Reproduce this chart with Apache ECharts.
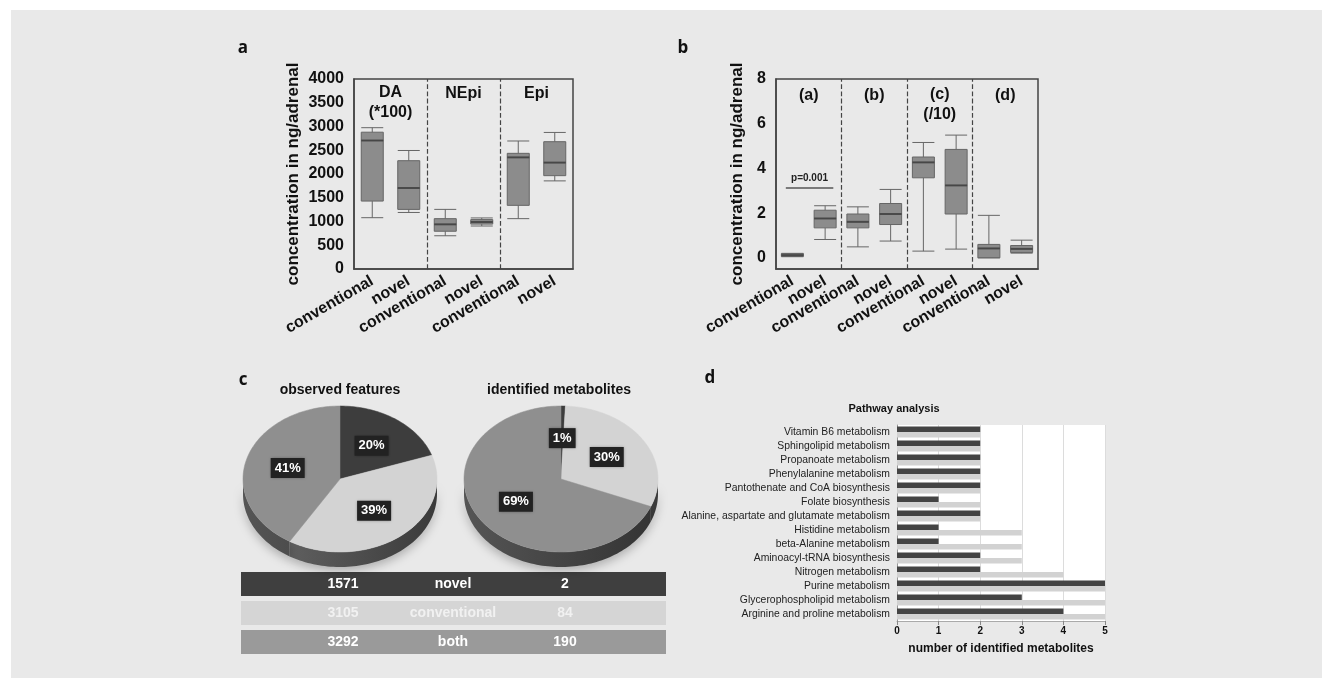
<!DOCTYPE html>
<html>
<head>
<meta charset="utf-8">
<script src="https://cdn.jsdelivr.net/npm/echarts@6/dist/echarts.min.js"></script>
<style>
  body { margin: 0; background: #fff; }
  .panel { position: absolute; left: 11px; top: 10px; width: 1311px; height: 668px; background: #e9e9e9; }
  #main { position: absolute; left: 0; top: 0; width: 1322px; height: 678px; }
</style>
</head>
<body>
<div class="panel"></div>
<div id="main"></div>
<script>
// panel a: catecholamines, box = [min, Q1, median, Q3, max]
const boxLabelsA = ["conventional", "novel", "conventional", "novel", "conventional", "novel"];
const sectionsA = ["DA\n(*100)", "NEpi", "Epi"];
const boxA = [
  [1080, 1430, 2705, 2880, 2975],
  [1190, 1255, 1705, 2280, 2495],
  [700, 795, 940, 1060, 1255],
  [905, 945, 990, 1040, 1075],
  [1060, 1340, 2350, 2435, 2695],
  [1855, 1965, 2240, 2680, 2875],
];
const ticksA = [0, 500, 1000, 1500, 2000, 2500, 3000, 3500, 4000];

// panel b
const boxLabelsB = ["conventional", "novel", "conventional", "novel", "conventional", "novel", "conventional", "novel"];
const sectionsB = ["(a)", "(b)", "(c)\n(/10)", "(d)"];
const boxB = [
  [0.05, 0.06, 0.12, 0.19, 0.2],
  [0.82, 1.34, 1.76, 2.13, 2.33],
  [0.49, 1.34, 1.61, 1.96, 2.28],
  [0.75, 1.49, 1.96, 2.43, 3.06],
  [0.3, 3.58, 4.27, 4.51, 5.16],
  [0.39, 1.96, 3.24, 4.85, 5.49],
  [0.0, 0.0, 0.42, 0.6, 1.9],
  [0.21, 0.24, 0.4, 0.55, 0.79],
];
const ticksB = [0, 2, 4, 6, 8];
const pText = "p=0.001";
const pLevel = 3.15;

// panel c
const groups = ["novel", "conventional", "both"];
const featureCounts = [1571, 3105, 3292];
const metaboliteCounts = [2, 84, 190];
const pieTitles = ["observed features", "identified metabolites"];

// panel d
const pathways = [
  "Vitamin B6 metabolism",
  "Sphingolipid metabolism",
  "Propanoate metabolism",
  "Phenylalanine metabolism",
  "Pantothenate and CoA biosynthesis",
  "Folate biosynthesis",
  "Alanine, aspartate and glutamate metabolism",
  "Histidine metabolism",
  "beta-Alanine metabolism",
  "Aminoacyl-tRNA biosynthesis",
  "Nitrogen metabolism",
  "Purine metabolism",
  "Glycerophospholipid metabolism",
  "Arginine and proline metabolism",
];
const identified = [2, 2, 2, 2, 2, 1, 2, 1, 1, 2, 2, 5, 3, 4];
const pathwayHits = [2, 2, 2, 2, 2, 2, 2, 3, 3, 3, 4, 5, 5, 5];

const FONT = "'Liberation Sans', Arial, sans-serif";
const topColors = ["#3d3d3d", "#d3d3d3", "#8f8f8f"];
const sideColors = [["#3a3a3a", "#202020"], ["#6a6a6a", "#3a3a3a"], ["#555", "#333"]];
const rowColors = ["#3f3f3f", "#d5d5d5", "#9a9a9a"];
const rowText = ["#fff", "#f1f1f1", "#fff"];

const myChart = echarts.init(document.getElementById("main"));

// pseudo 3d pie drawn as ellipse slices
function pieSeries(values, cx, cy) {
  const rx = 97, ry = 73, depth = 15;
  const total = values.reduce((a, b) => a + b, 0);
  return {
    type: "custom",
    coordinateSystem: "none",
    silent: true,
    data: values,
    renderItem(params, api) {
      const i = params.dataIndex;
      let before = 0;
      for (let k = 0; k < i; k++) before += values[k];
      const a0 = (before / total) * 2 * Math.PI;
      const a1 = ((before + values[i]) / total) * 2 * Math.PI;
      const pt = (a, dy, f) => [cx + rx * f * Math.sin(a), cy - ry * f * Math.cos(a) + dy];
      const arc = (s, e, dy) => {
        const n = Math.max(2, Math.ceil((e - s) / 0.03));
        const out = [];
        for (let k = 0; k <= n; k++) out.push(pt(s + ((e - s) * k) / n, dy, 1));
        return out;
      };
      const children = [];
      const s = Math.max(a0, Math.PI / 2), e = Math.min(a1, 1.5 * Math.PI);
      if (e > s) {
        children.push({
          type: "polygon",
          z2: 1,
          shape: { points: arc(s, e, 0).concat(arc(s, e, depth).reverse()) },
          style: {
            fill: new echarts.graphic.LinearGradient(cx - rx, 0, cx + rx, 0, [
              { offset: 0, color: sideColors[i][0] },
              { offset: 1, color: sideColors[i][1] },
            ], true),
            shadowBlur: 10,
            shadowColor: "rgba(0,0,0,0.25)",
            shadowOffsetY: 4,
          },
        });
      }
      children.push({
        type: "polygon",
        z2: 2,
        shape: { points: [[cx, cy]].concat(arc(a0, a1, 0)) },
        style: { fill: topColors[i], stroke: topColors[i], lineWidth: 0.5 },
      });
      const lp = pt((a0 + a1) / 2, 0, 0.56);
      children.push({
        type: "text",
        z2: 10,
        x: lp[0],
        y: lp[1],
        style: {
          text: Math.round((values[i] / total) * 100) + "%",
          fill: "#fff",
          font: "bold 13px " + FONT,
          backgroundColor: "#222",
          padding: [4, 4, 3, 4],
          align: "center",
          verticalAlign: "middle",
          shadowBlur: 3,
          shadowColor: "rgba(0,0,0,0.4)",
        },
      });
      return { type: "group", children: children };
    },
  };
}

const catAxis = (grid, data) => ({
  type: "category",
  gridIndex: grid,
  data: data,
  axisLine: { onZero: false, lineStyle: { color: "#444", width: 1.5 } },
  axisTick: { alignWithLabel: true, length: 4, lineStyle: { color: "#444" } },
  axisLabel: { interval: 0, rotate: 30, margin: 11, color: "#111", fontSize: 16, fontWeight: "bold", fontFamily: FONT },
});

const valueAxis = (grid, min, max, ticks, gap) => ({
  type: "value",
  gridIndex: grid,
  min: min,
  max: max,
  name: "concentration in ng/adrenal",
  nameLocation: "middle",
  nameGap: gap,
  nameTextStyle: { color: "#111", fontSize: 17, fontWeight: "bold" },
  axisLine: { show: true, onZero: false, lineStyle: { color: "#444", width: 1.5 } },
  axisTick: { show: false },
  splitLine: { show: false },
  axisLabel: { color: "#111", fontSize: 16, fontWeight: "bold", margin: 10, customValues: ticks, formatter: (v) => String(v) },
});

const medianDots = (box, x, y) => ({
  type: "scatter",
  xAxisIndex: x,
  yAxisIndex: y,
  silent: true,
  symbol: "rect",
  symbolSize: [22, 2],
  itemStyle: { color: "#3f3f3f" },
  data: box.map((d, i) => [i, d[2]]),
});

const sectionText = (labels, top1, top2) =>
  labels.map((t, k) => ({ name: t, coord: [2 * k + 0.5, t.indexOf("\n") > 0 ? top2 : top1] }));

const markText = {
  show: true,
  position: "inside",
  color: "#111",
  fontSize: 16,
  fontWeight: "bold",
  fontFamily: FONT,
  lineHeight: 20,
  formatter: (p) => p.name,
};

// table under the pies
const table = [];
groups.forEach((g, r) => {
  const y = 572 + r * 29;
  table.push({ type: "rect", shape: { x: 241, y: y, width: 425, height: 24 }, style: { fill: rowColors[r] } });
  [[343, featureCounts[r]], [453, g], [565, metaboliteCounts[r]]].forEach(([x, t]) => {
    table.push({ type: "text", x: x, y: y + 12, style: { text: String(t), fill: rowText[r], font: "bold 14px " + FONT, align: "center", verticalAlign: "middle" } });
  });
});

const letter = (t, x, y) => ({ type: "text", x: x, y: y, style: { text: t, fill: "#111", font: "bold 17px 'Open Sans', sans-serif", align: "center", verticalAlign: "middle" } });

myChart.setOption({
  animation: false,
  textStyle: { fontFamily: FONT },
  grid: [
    { left: 354, top: 79, width: 219, height: 190, show: true, borderColor: "#444", borderWidth: 1.5 },
    { left: 776, top: 79, width: 262, height: 190, show: true, borderColor: "#444", borderWidth: 1.5 },
    { left: 897, top: 425, width: 208, height: 196, show: true, backgroundColor: "#fff", borderWidth: 0 },
  ],
  xAxis: [
    catAxis(0, boxLabelsA),
    catAxis(1, boxLabelsB),
    { type: "value", gridIndex: 0, min: -0.5, max: 5.5, show: false },
    { type: "value", gridIndex: 1, min: -0.5, max: 7.5, show: false },
    {
      type: "value",
      gridIndex: 2,
      min: 0,
      max: 5,
      interval: 1,
      name: "number of identified metabolites",
      nameLocation: "middle",
      nameGap: 22,
      nameTextStyle: { color: "#111", fontSize: 12, fontWeight: "bold" },
      axisLine: { show: true, onZero: false, lineStyle: { color: "#aaa" } },
      axisTick: { show: true, length: 4, lineStyle: { color: "#888" } },
      axisLabel: { color: "#111", fontSize: 10, fontWeight: "bold", margin: 5 },
      splitLine: { show: true, lineStyle: { color: "#dcdcdc" } },
    },
  ],
  yAxis: [
    valueAxis(0, 0, 4000, ticksA, 52),
    valueAxis(1, -0.5, 8, ticksB, 30),
    {
      type: "category",
      gridIndex: 2,
      inverse: true,
      data: pathways,
      axisLine: { onZero: false, lineStyle: { color: "#999" } },
      axisTick: { show: false },
      axisLabel: { color: "#222", fontSize: 10.4, margin: 7 },
    },
  ],
  graphic: [
    letter("a", 243, 48),
    letter("b", 683, 48),
    letter("c", 243, 380),
    letter("d", 710, 378),
    { type: "text", x: 340, y: 390, style: { text: pieTitles[0], fill: "#111", font: "bold 14px " + FONT, align: "center", verticalAlign: "middle" } },
    { type: "text", x: 559, y: 390, style: { text: pieTitles[1], fill: "#111", font: "bold 14px " + FONT, align: "center", verticalAlign: "middle" } },
    { type: "text", x: 894, y: 409, style: { text: "Pathway analysis", fill: "#111", font: "bold 11px " + FONT, align: "center", verticalAlign: "middle" } },
  ].concat(table),
  series: [
    {
      type: "boxplot",
      xAxisIndex: 0,
      yAxisIndex: 0,
      boxWidth: [22, 22],
      itemStyle: { color: "#8c8c8c", borderColor: "#666", borderWidth: 1 },
      data: boxA,
    },
    medianDots(boxA, 0, 0),
    {
      type: "line",
      xAxisIndex: 2,
      yAxisIndex: 0,
      data: [],
      markLine: {
        silent: true,
        symbol: ["none", "none"],
        label: { show: false },
        lineStyle: { type: "dashed", color: "#444", width: 1.2 },
        data: [{ xAxis: 1.5 }, { xAxis: 3.5 }],
      },
      markPoint: {
        silent: true,
        symbol: "rect",
        symbolSize: 1,
        itemStyle: { color: "rgba(0,0,0,0)" },
        label: markText,
        data: sectionText(sectionsA, 3684, 3495),
      },
    },
    {
      type: "boxplot",
      xAxisIndex: 1,
      yAxisIndex: 1,
      boxWidth: [22, 22],
      itemStyle: { color: "#8c8c8c", borderColor: "#666", borderWidth: 1 },
      data: boxB,
    },
    medianDots(boxB, 1, 1),
    {
      type: "line",
      xAxisIndex: 3,
      yAxisIndex: 1,
      data: [],
      markLine: {
        silent: true,
        symbol: ["none", "none"],
        label: { show: false },
        lineStyle: { type: "dashed", color: "#444", width: 1.2 },
        data: [
          { xAxis: 1.5 },
          { xAxis: 3.5 },
          { xAxis: 5.5 },
          [
            {
              coord: [-0.2, pLevel],
              lineStyle: { type: "solid", color: "#555", width: 1.5 },
              label: { show: true, position: "middle", formatter: pText, color: "#222", fontSize: 10, fontWeight: "bold", distance: 4 },
            },
            { coord: [1.25, pLevel] },
          ],
        ],
      },
      markPoint: {
        silent: true,
        symbol: "rect",
        symbolSize: 1,
        itemStyle: { color: "rgba(0,0,0,0)" },
        label: markText,
        data: sectionText(sectionsB, 7.28, 6.84),
      },
    },
    {
      type: "bar",
      xAxisIndex: 4,
      yAxisIndex: 2,
      barGap: "0%",
      barCategoryGap: "22%",
      itemStyle: { color: "#444" },
      data: identified,
    },
    {
      type: "bar",
      xAxisIndex: 4,
      yAxisIndex: 2,
      barGap: "0%",
      barCategoryGap: "22%",
      itemStyle: { color: "#d2d2d2" },
      data: pathwayHits,
    },
    pieSeries(featureCounts, 340, 479),
    pieSeries(metaboliteCounts, 561, 479),
  ],
});
</script>
</body>
</html>
